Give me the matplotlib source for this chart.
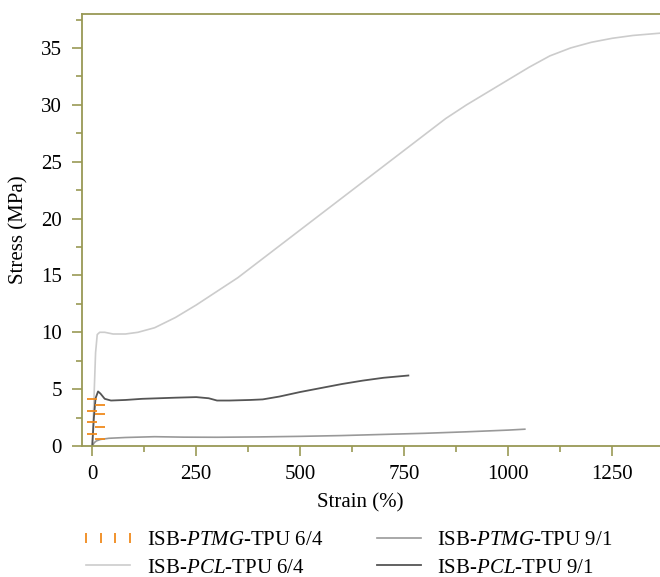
import matplotlib.pyplot as plt
from matplotlib.lines import Line2D

plt.rcParams['font.family'] = 'Liberation Serif'
plt.rcParams['mathtext.fontset'] = 'custom'
plt.rcParams['mathtext.rm'] = 'Liberation Serif'
plt.rcParams['mathtext.it'] = 'Liberation Serif:italic'

# ISB-PTMG-TPU 6/4 (short orange dashes near origin)
ptmg64_strain = [0, 19, 0, 19, 0, 19, 0, 19]
ptmg64_stress = [4.1, 3.6, 3.1, 2.8, 2.1, 1.7, 1.05, 0.6]

# ISB-PTMG-TPU 9/1
ptmg91_strain = [0, 5, 10, 20, 40, 80, 150, 220, 300, 400, 500, 600, 700, 800, 900, 1000, 1040]
ptmg91_stress = [0, 0.3, 0.45, 0.58, 0.68, 0.75, 0.82, 0.78, 0.77, 0.8, 0.85, 0.92, 1.02, 1.12, 1.25, 1.4, 1.48]

# ISB-PCL-TPU 6/4
pcl64_strain = [0, 4, 8, 12, 18, 30, 50, 80, 110, 150, 200, 250, 300, 350, 400, 450, 500, 550, 600, 650,
                700, 750, 800, 850, 900, 950, 1000, 1050, 1100, 1150, 1200, 1250, 1300, 1365]
pcl64_stress = [0, 4.0, 8.2, 9.8, 10.0, 10.0, 9.85, 9.85, 10.0, 10.4, 11.3, 12.4, 13.6, 14.8, 16.2, 17.6, 19.0, 20.4, 21.8, 23.2,
                24.6, 26.0, 27.4, 28.8, 30.0, 31.1, 32.2, 33.3, 34.3, 35.0, 35.5, 35.85, 36.1, 36.3]

# ISB-PCL-TPU 9/1
pcl91_strain = [0, 4, 8, 14, 20, 30, 45, 80, 120, 160, 200, 250, 280, 300, 330, 380, 410, 450, 500, 550, 600, 650, 700, 760]
pcl91_stress = [0, 2.5, 4.2, 4.8, 4.6, 4.15, 4.0, 4.05, 4.15, 4.2, 4.25, 4.3, 4.2, 4.0, 4.0, 4.05, 4.1, 4.35, 4.75, 5.1, 5.45, 5.75, 6.0, 6.2]

fig = plt.figure(figsize=(6.6, 5.77), dpi=100)
ax = fig.add_axes([0.124, 0.227, 0.876, 0.749])

c_pcl64 = '#cccccc'
c_ptmg91 = '#999999'
c_pcl91 = '#555555'
c_ptmg64 = '#f08a1c'

ax.plot(pcl64_strain, pcl64_stress, color=c_pcl64, lw=1.2)
ax.plot(ptmg91_strain, ptmg91_stress, color=c_ptmg91, lw=1.2)
ax.plot(pcl91_strain, pcl91_stress, color=c_pcl91, lw=1.3)
ax.plot(ptmg64_strain, ptmg64_stress, color=c_ptmg64, ls='none', marker='_', ms=7.5, mew=1.3)

ax.set_xlim(-25, 1365)
ax.set_ylim(0, 38)
ax.set_xticks([0, 250, 500, 750, 1000, 1250])
ax.set_xticks([125, 375, 625, 875, 1125], minor=True)
ax.set_yticks(range(0, 40, 5))
ax.set_yticks([2.5, 7.5, 12.5, 17.5, 22.5, 27.5, 32.5, 37.5], minor=True)

spine_col = '#999955'
ax.spines['right'].set_visible(False)
for s in ['left', 'bottom', 'top']:
    ax.spines[s].set_color(spine_col)
    ax.spines[s].set_linewidth(1.3)
ax.tick_params(which='major', length=7.2, width=1.2, color=spine_col, labelsize=15)
ax.tick_params(which='minor', length=4.3, width=1.2, color=spine_col)
ax.tick_params(axis='x', which='major', pad=6.5)
ax.tick_params(axis='y', which='major', pad=7)

ax.set_xlabel('Strain (%)', fontsize=15)
ax.set_ylabel('Stress (MPa)', fontsize=15)
ax.xaxis.set_label_coords(0.481, -0.11)
ax.yaxis.set_label_coords(-0.092, 0.5)

handles = [
    Line2D([0], [0], color=c_ptmg64, ls='none', marker='|', ms=7, mew=1.3),
    Line2D([0], [0], color=c_pcl64, lw=1.2),
    Line2D([0], [0], color=c_ptmg91, lw=1.2),
    Line2D([0], [0], color=c_pcl91, lw=1.3),
]
labels = [r'ISB-$\mathit{PTMG}$-TPU 6/4', r'ISB-$\mathit{PCL}$-TPU 6/4',
          r'ISB-$\mathit{PTMG}$-TPU 9/1', r'ISB-$\mathit{PCL}$-TPU 9/1']
fig.legend(handles, labels, loc='upper left', bbox_to_anchor=(0.121, 0.081), ncol=2,
           frameon=False, fontsize=15, numpoints=4, handlelength=2.7, handletextpad=0.5,
           columnspacing=2.3, labelspacing=0.4, borderpad=0, borderaxespad=0)

fig.savefig('out.png', dpi=100)
